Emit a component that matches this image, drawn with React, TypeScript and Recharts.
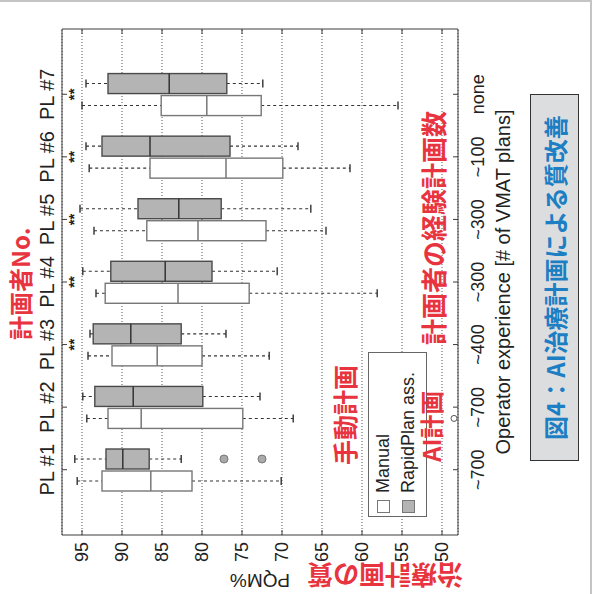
import React from 'react';
import {
  ComposedChart, Bar, XAxis, YAxis, CartesianGrid, Legend,
} from 'recharts';

// the figure is drawn upright and then turned 90° counter-clockwise, like the scan
const categories = ['PL #1', 'PL #2', 'PL #3', 'PL #4', 'PL #5', 'PL #6', 'PL #7'];
const experience = ['~700', '~700', '~400', '~300', '~300', '~100', 'none'];
const significance = ['', '', '**', '**', '**', '**', '**'];
const pqmTicks = [50, 55, 60, 65, 70, 75, 80, 85, 90, 95];

// Manual plans (white boxes)
const manualMin = [70.1, 68.6, 71.6, 58.1, 64.5, 61.5, 55.5];
const manualQ1 = [81.25, 74.9, 80.0, 74.1, 72.0, 69.9, 72.6];
const manualMedian = [86.4, 87.6, 85.6, 83.0, 80.5, 77.0, 79.4];
const manualQ3 = [92.5, 91.75, 91.25, 92.1, 86.9, 86.5, 85.1];
const manualMax = [95.6, 94.4, 94.25, 93.25, 93.5, 94.1, 95.0];
const manualOutliers = [[], [48.5], [], [], [], [], []];

// RapidPlan assisted (grey boxes)
const rapidMin = [82.6, 72.75, 77.0, 70.6, 66.4, 68.0, 72.4];
const rapidQ1 = [86.6, 79.9, 82.6, 78.75, 77.6, 76.5, 76.9];
const rapidMedian = [89.9, 88.6, 88.9, 84.6, 82.9, 86.5, 84.1];
const rapidQ3 = [92.0, 93.4, 93.6, 91.4, 88.0, 92.5, 91.75];
const rapidMax = [95.9, 94.9, 94.0, 94.9, 95.25, 94.5, 94.5];
const rapidOutliers = [[77.25, 72.5], [], [], [], [], [], []];

const data = categories.map((cat, i) => ({
  cat,
  manual: [manualMin[i], manualMax[i]],
  rapid: [rapidMin[i], rapidMax[i]],
  manualStats: {
    min: manualMin[i], q1: manualQ1[i], med: manualMedian[i], q3: manualQ3[i], max: manualMax[i],
    outliers: manualOutliers[i],
  },
  rapidStats: {
    min: rapidMin[i], q1: rapidQ1[i], med: rapidMedian[i], q3: rapidQ3[i], max: rapidMax[i],
    outliers: rapidOutliers[i],
  },
}));

const LATIN = '"Liberation Sans", Arial, Helvetica, sans-serif';
const CJK = '"Noto Sans CJK JP", "Noto Sans", sans-serif';
const RED = '#e8343e';
const BLUE = '#1c7fc4';
const FRAME = '#3c3c3c';

// one box: the bar spans min..max, the rest is placed on the same linear scale
const BoxShape = (props: any) => {
  const { x, y, width, height, stats, fill, boxStroke, medianStroke, outlierFill } = props;
  if (x == null || y == null || !stats) return <g />;
  const top = Math.min(y, y + height);
  const bottom = Math.max(y, y + height);
  const ppu = (bottom - top) / (stats.max - stats.min);
  const py = (v: number) => top + (stats.max - v) * ppu;
  const cx = x + width / 2;
  const cap = 4;
  return (
    <g>
      <line x1={cx} x2={cx} y1={py(stats.max)} y2={py(stats.q3)} stroke="#333" strokeWidth={1.1} strokeDasharray="3 3" />
      <line x1={cx} x2={cx} y1={py(stats.q1)} y2={py(stats.min)} stroke="#333" strokeWidth={1.1} strokeDasharray="3 3" />
      <line x1={cx - cap} x2={cx + cap} y1={py(stats.max)} y2={py(stats.max)} stroke="#333" strokeWidth={1.4} />
      <line x1={cx - cap} x2={cx + cap} y1={py(stats.min)} y2={py(stats.min)} stroke="#333" strokeWidth={1.4} />
      <rect x={x} y={py(stats.q3)} width={width} height={py(stats.q1) - py(stats.q3)}
        fill={fill} stroke={boxStroke} strokeWidth={1.4} />
      <line x1={x} x2={x + width} y1={py(stats.med)} y2={py(stats.med)} stroke={medianStroke} strokeWidth={1.5} />
      {stats.outliers.map((o: number, k: number) => (
        <circle key={k} cx={cx} cy={py(o)} r={outlierFill === 'none' ? 3 : 4}
          fill={outlierFill} stroke={outlierFill === 'none' ? '#555' : '#777'} strokeWidth={1} />
      ))}
    </g>
  );
};

const LeftTick = (props: any) => {
  const { x, y, payload } = props;
  return (
    <g>
      <line x1={x} x2={x + 5} y1={y} y2={y} stroke={FRAME} />
      <text x={x - 7} y={y + 6.4} textAnchor="end" fontSize={18} fontFamily={LATIN} fill="#222">
        {payload.value}
      </text>
    </g>
  );
};

const RightTick = (props: any) => {
  const { x, y } = props;
  return <line x1={x - 5} x2={x} y1={y} y2={y} stroke={FRAME} />;
};

const TopTick = (props: any) => {
  const { x, y, payload, index } = props;
  return (
    <g>
      <line x1={x} x2={x} y1={y} y2={y + 5} stroke={FRAME} />
      <text x={x} y={y - 8} textAnchor="middle" fontSize={20} fontFamily={LATIN} fill="#222">
        {payload.value}
      </text>
      <text x={x} y={y + 17} textAnchor="middle" fontSize={15} fontWeight="bold" fontFamily={LATIN} fill="#222">
        {significance[index]}
      </text>
    </g>
  );
};

const BottomTick = (props: any) => {
  const { x, y, index } = props;
  return (
    <g>
      <line x1={x} x2={x} y1={y} y2={y - 5} stroke={FRAME} />
      <text x={x} y={y + 25.5} textAnchor="middle" fontSize={18} fontFamily={LATIN} fill="#222">
        {experience[index]}
      </text>
    </g>
  );
};

const LegendBox = () => (
  <div style={{
    width: 165, height: 59, boxSizing: 'border-box', border: '1px solid #666', background: '#fff',
    position: 'relative', fontFamily: LATIN, fontSize: 18, color: '#222',
  }}>
    {[
      { label: 'Manual', fill: '#ffffff', top: 7 },
      { label: 'RapidPlan ass.', fill: '#b4b4b4', top: 32 },
    ].map((r) => (
      <div key={r.label} style={{ position: 'absolute', left: 3, top: r.top, height: 14, display: 'flex', alignItems: 'center' }}>
        <span style={{ width: 13, height: 13, boxSizing: 'border-box', border: '1px solid #777', background: r.fill, display: 'inline-block' }} />
        <span style={{ marginLeft: 7, lineHeight: '14px', whiteSpace: 'nowrap' }}>{r.label}</span>
      </div>
    ))}
  </div>
);

const redText = (size: number): React.CSSProperties => ({
  position: 'absolute', color: RED, fontFamily: CJK, fontWeight: 700, fontSize: size,
  lineHeight: `${size}px`, whiteSpace: 'nowrap',
});

const App: React.FC = () => {
  return (
    <div style={{
      position: 'absolute', left: 0, top: 0, width: 592, height: 594, boxSizing: 'border-box',
      background: '#fff', borderTop: '2px solid #c4c4c4', borderRight: '2px solid #c4c4c4', overflow: 'hidden',
    }}>
      <div style={{
        position: 'absolute', left: 0, top: 0, width: 594, height: 592,
        transformOrigin: '0 0', transform: 'translate(0px, 594px) rotate(-90deg)',
      }}>
        <ComposedChart width={594} height={592} data={data} barSize={20} barGap={2}
          margin={{ top: 32, right: 17, bottom: 104, left: 21 }}>
          <CartesianGrid vertical={false} stroke="#555" strokeDasharray="1 2" />
          <XAxis dataKey="cat" height={30} interval={0} padding={{ left: 34, right: 34 }}
            tickSize={0} tickMargin={0} tickLine={false} axisLine={{ stroke: FRAME }} tick={<BottomTick />} />
          <XAxis xAxisId="top" orientation="top" dataKey="cat" height={30} interval={0}
            padding={{ left: 34, right: 34 }} tickSize={0} tickMargin={0} tickLine={false}
            axisLine={{ stroke: FRAME }} tick={<TopTick />} />
          <YAxis type="number" width={40} domain={[48, 97.5]} allowDataOverflow ticks={pqmTicks} interval={0}
            tickSize={0} tickMargin={0} tickLine={false} axisLine={{ stroke: FRAME }} tick={<LeftTick />} />
          <YAxis yAxisId="right" orientation="right" type="number" width={10} domain={[48, 97.5]}
            allowDataOverflow ticks={pqmTicks} interval={0} tickSize={0} tickMargin={0} tickLine={false}
            axisLine={{ stroke: FRAME }} tick={<RightTick />} />
          <Bar dataKey="manual" name="Manual" isAnimationActive={false}
            shape={(p: any) => (
              <BoxShape {...p} stats={p.payload?.manualStats ?? data[p.index]?.manualStats}
                fill="#ffffff" boxStroke="#777" medianStroke="#777" outlierFill="none" />
            )} />
          <Bar dataKey="rapid" name="RapidPlan ass." isAnimationActive={false}
            shape={(p: any) => (
              <BoxShape {...p} stats={p.payload?.rapidStats ?? data[p.index]?.rapidStats}
                fill="#b4b4b4" boxStroke="#4a4a4a" medianStroke="#333" outlierFill="#aaaaaa" />
            )} />
          <Legend layout="vertical" align="center" verticalAlign="middle"
            wrapperStyle={{ left: 79, top: 368, width: 165, height: 59 }} content={() => <LegendBox />} />
        </ComposedChart>

        {/* axis titles */}
        <div style={{
          position: 'absolute', left: 61, top: 493, width: 506, textAlign: 'center',
          fontFamily: LATIN, fontSize: 20, lineHeight: '20px', color: '#222', whiteSpace: 'nowrap',
        }}>
          Operator experience [# of VMAT plans]
        </div>
        <div style={{
          position: 'absolute', left: 16, top: 260, transform: 'translate(-50%, -50%) rotate(-90deg)',
          fontFamily: LATIN, fontSize: 19, lineHeight: '19px', color: '#222', whiteSpace: 'nowrap',
        }}>
          PQM%
        </div>

        {/* red annotations */}
        <div style={{ ...redText(24), left: 256, top: 8 }}>計画者No.</div>
        <div style={{ ...redText(26), left: 251, top: 420 }}>計画者の経験計画数</div>
        <div style={{ ...redText(25), left: 131, top: 332 }}>手動計画</div>
        <div style={{ ...redText(24), left: 134, top: 419 }}>AI計画</div>
        <div style={{ ...redText(26), left: 20, top: 385, transform: 'translate(-50%, -50%) rotate(-90deg)' }}>
          治療計画の質
        </div>

        {/* figure caption */}
        <div style={{
          position: 'absolute', left: 135, top: 530, width: 367, height: 49, boxSizing: 'border-box',
          background: '#dcdddf', border: '1.5px solid #333', display: 'flex', alignItems: 'center',
          justifyContent: 'center', color: BLUE, fontFamily: CJK, fontWeight: 700, fontSize: 24,
          whiteSpace: 'nowrap',
        }}>
          図4：AI治療計画による質改善
        </div>
      </div>
    </div>
  );
};

export default App;
